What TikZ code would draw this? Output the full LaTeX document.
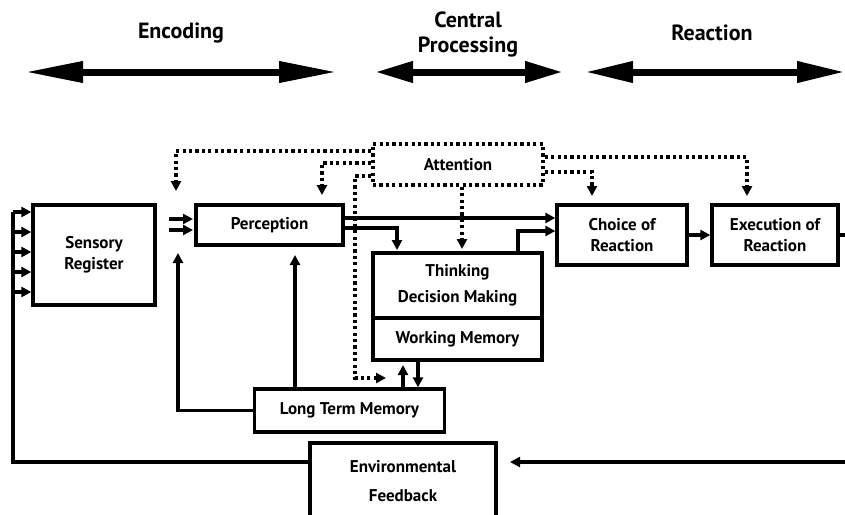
\documentclass[tikz,border=0pt]{standalone}
\usepackage{fontspec}
\setmainfont{PT Sans}
\usetikzlibrary{arrows.meta}
\begin{document}
\begin{tikzpicture}[x=1pt,y=-1pt,
  box/.style={draw, line width=3.3pt, inner sep=0pt, align=center, font=\bfseries\fontsize{17}{21}\selectfont},
  conn/.style={line width=3.2pt, -{Triangle[length=10pt,width=10pt]}},
  plain/.style={line width=3.2pt},
  dots/.style={line width=3.4pt, dash pattern=on 3.2pt off 3.2pt},
  darr/.style={dots, -{Triangle[length=10pt,width=10pt]}},
  big/.style={line width=7pt, {Triangle[length=#1,width=20pt]}-{Triangle[length=#1,width=20pt]}},
  lab/.style={font=\bfseries\fontsize{22}{25}\selectfont, align=center}]
\useasboundingbox (0,0) rectangle (845,514);
\clip (0,0) rectangle (845,514);

% phase labels and arrows
\node[lab] (enc) at (181,33) {Encoding};
\node[lab] (cp) at (468,34) {Central\\Processing};
\node[lab] (rea) at (712,33) {Reaction};
\coordinate (e1) at (25,72);  \coordinate (e2) at (337,72);
\coordinate (c1) at (375,72); \coordinate (c2) at (563,72);
\coordinate (r1) at (585,72); \coordinate (r2) at (845,72);
\draw[big=58pt] (e1) -- (e2);
\draw[big=38pt] (c1) -- (c2);
\draw[big=48pt] (r1) -- (r2);

% boxes
\node[box, minimum width=122pt, minimum height=100pt] (sens) at (94,255) {Sensory\\Register};
\node[box, minimum width=147pt, minimum height=40pt] (perc) at (269.5,225) {Perception};
\node[box, dots, minimum width=170pt, minimum height=41pt] (att) at (458,164.5) {Attention};
\node[box, minimum width=169pt, minimum height=65pt, font=\bfseries\fontsize{17}{26}\selectfont] (think) at (457.5,285.5) {Thinking\\Decision Making};
\node[box, minimum width=169pt, minimum height=42pt] (wm) at (457.5,339) {Working Memory};
\node[box, minimum width=130pt, minimum height=60pt] (choice) at (622,235) {Choice of\\Reaction};
\node[box, minimum width=126pt, minimum height=60pt] (exec) at (775,235) {Execution of\\Reaction};
\node[box, minimum width=190pt, minimum height=43pt] (ltm) at (349.5,410.5) {Long Term Memory};
\node[box, minimum width=186pt, minimum height=77pt, font=\bfseries\fontsize{17}{29}\selectfont] (env) at (403,481.5) {Environmental\\Feedback};

% environmental feedback loop
\coordinate (lb) at (13,462);
\coordinate (lt) at (13,212);
\coordinate (rt) at (870,235);
\coordinate (rb) at (870,462);
\coordinate (envin) at (510,462);
\draw[plain] (env.west |- lb) -- (lb) -- (lt);
\foreach \y in {212,232,252,272,292} \draw[conn] (13,\y) -- (sens.west |- 0,\y);
\draw[conn] (exec.east) -- (rt) -- (rb) -- (envin);

% inputs to perception
\coordinate (p1a) at (169,219); \coordinate (p1b) at (193,219);
\coordinate (p2a) at (169,230); \coordinate (p2b) at (193,230);
\draw[conn] (p1a) -- (p1b);
\draw[conn] (p2a) -- (p2b);

% long term memory
\draw[conn] (ltm.west) -| (178,253);
\draw[conn] (ltm.north -| 295,0) -- (295,255);
\draw[conn] (ltm.north -| 403,0) -- (403,365);
\draw[conn] (wm.south -| 418,0) -- (ltm.north -| 418,0);

% attention (dotted)
\draw[darr] (att.west |- 0,151) -| (176,191);
\draw[darr] (att.west |- 0,163) -| (322,195);
\draw[darr] (att.west |- 0,176) -| (355,378) -- (386,378);
\draw[darr] (att.east |- 0,157) -| (747,196);
\draw[darr] (att.east |- 0,172) -| (592,196);
\draw[darr] (att.south -| 462,0) -- (462,249);

% processing flow
\draw[conn] (perc.east |- 0,218) -- (choice.west |- 0,218);
\draw[conn] (perc.east |- 0,228) -| (397,250);
\draw[conn] (think.north -| 518,0) |- (choice.west |- 0,231);
\draw[conn] (choice) -- (exec);
\end{tikzpicture}
\end{document}
